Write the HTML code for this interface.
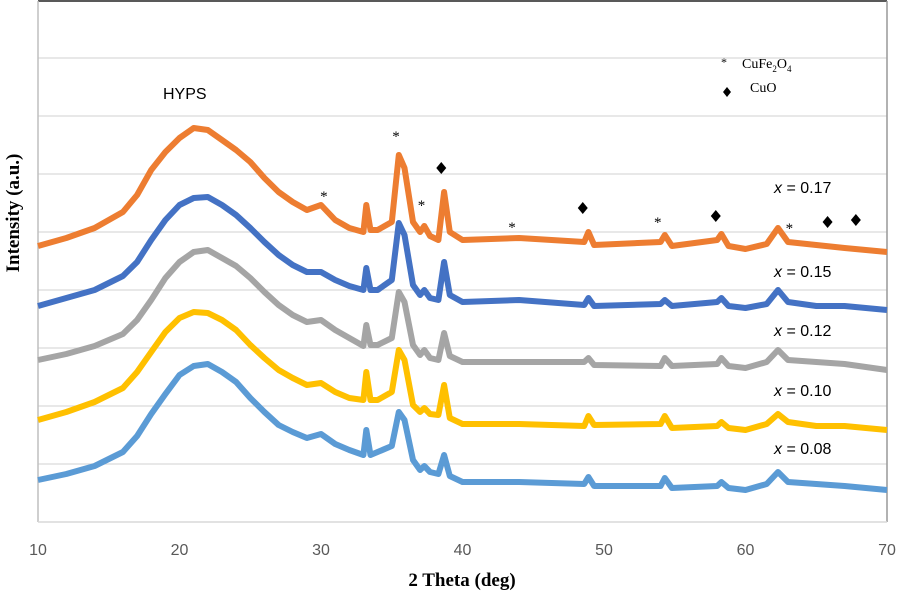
<!DOCTYPE html>
<html><head><meta charset="utf-8"><style>
body{margin:0;background:#fff;}
svg{display:block;}
.tk{font-family:"Liberation Sans",sans-serif;font-size:16px;fill:#595959;}
.lab{font-family:"Liberation Sans",sans-serif;font-size:16px;fill:#000;}
.ser{font-family:"Liberation Serif",serif;fill:#000;}
</style></head><body>
<svg id="chart" width="901" height="595" viewBox="0 0 901 595">
<g id="grid"></g>
<line x1="38" y1="1" x2="887" y2="1" stroke="#222" stroke-width="1.5"/>
<line x1="887" y1="1" x2="887" y2="522" stroke="#999" stroke-width="1.5"/>
<line x1="38" y1="1" x2="38" y2="522" stroke="#bfbfbf" stroke-width="1.5"/>
<line x1="38" y1="522" x2="887" y2="522" stroke="#d9d9d9" stroke-width="1.5"/>
<g id="series"></g>
<g id="ticks"></g>
<text x="462" y="586" text-anchor="middle" class="ser" font-size="19" font-weight="bold">2 Theta (deg)</text>
<text transform="translate(19,213) rotate(-90)" text-anchor="middle" class="ser" font-size="19" font-weight="bold">Intensity (a.u.)</text>
<text x="163" y="99" class="lab">HYPS</text>
<g>
<text x="721" y="66" class="ser" font-size="12">*</text>
<text x="742" y="68" class="ser" font-size="14">CuFe<tspan font-size="9" dy="4">2</tspan><tspan dy="-4">O</tspan><tspan font-size="9" dy="4">4</tspan></text>
<polygon points="727,87 731,92 727,97 723,92" fill="#000"/>
<text x="750" y="92" class="ser" font-size="14">CuO</text>
</g>
<g id="labels"></g>
<g id="marks"></g>
</svg>
<script>
const theta = [10,12,14,16,17,18,19,20,21,22,23,24,25,26,27,28,29,30,31,32,33,33.2,33.5,34,35,35.5,35.9,36.5,37,37.3,37.7,38.3,38.7,39.1,40,44,48.6,48.9,49.3,54,54.3,54.8,58,58.3,58.8,60,61.5,62.3,63,65,67,70];
const s017 = [276,284,294,310,327,352,370,384,394,392,382,372,360,344,330,320,312,317,302,294,290,317,292,292,300,367,354,300,290,296,286,282,330,290,282,284,280,290,277,280,287,276,282,288,276,273,278,294,280,277,274,270];
const s015 = [216,224,232,246,260,282,302,317,324,325,317,307,294,280,267,257,250,250,242,236,232,254,232,232,242,299,287,237,227,232,224,222,260,227,220,222,217,224,216,218,222,216,220,224,216,214,218,232,220,216,216,212];
const s012 = [162,168,176,188,202,222,244,260,270,272,264,256,244,230,217,207,200,202,192,184,176,197,177,177,184,230,220,177,167,172,164,162,189,166,160,160,160,164,157,156,164,156,158,164,156,154,160,172,162,160,158,152];
const s010 = [102,110,120,134,150,170,190,204,210,209,202,192,177,164,152,144,137,139,130,124,122,150,122,122,130,172,162,117,110,114,108,107,137,104,98,98,96,106,97,98,106,94,96,100,94,92,98,108,100,96,96,92];
const s008 = [42,48,56,70,86,108,128,147,156,158,150,140,124,110,97,90,84,88,78,72,67,92,67,70,76,110,102,62,52,56,50,48,67,46,40,40,38,45,36,36,44,34,36,40,34,32,38,50,40,38,36,32];
const seriesNames = ["x = 0.17","x = 0.15","x = 0.12","x = 0.10","x = 0.08"];
const xTicks = [10,20,30,40,50,60,70];
const gridVals = [58,116,174,232,290,348,406,464];
const starTheta = [30.2,35.3,37.1,43.5,53.8,63.1];
const starVal = [329,389,320,298,303,297];
const diamondTheta = [38.5,48.5,57.9,65.8,67.8];
const diamondVal = [354,314,306,300,302];

const NS="http://www.w3.org/2000/svg";
function xs(t){return 38+(t-10)*(849/60);}
function ys(v){return 522-v;}
const colors=["#ED7D31","#4472C4","#A5A5A5","#FFC000","#5B9BD5"];
const all=[s017,s015,s012,s010,s008];
const labelY=[187,271,330,390,448];
const grid=document.getElementById('grid');
gridVals.forEach(g=>{const l=document.createElementNS(NS,'line');


l.setAttribute('x1',38);l.setAttribute('x2',887);l.setAttribute('y1',ys(g));l.setAttribute('y2',ys(g));l.setAttribute('stroke','#d9d9d9');l.setAttribute('stroke-width','1.3');grid.appendChild(l);});
const sg=document.getElementById('series');
all.forEach((arr,i)=>{const p=document.createElementNS(NS,'polyline');


p.setAttribute('points',arr.map((v,j)=>xs(theta[j]).toFixed(1)+','+ys(v)).join(' '));
p.setAttribute('fill','none');p.setAttribute('stroke',colors[i]);p.setAttribute('stroke-width','6');p.setAttribute('stroke-linejoin','round');sg.appendChild(p);});
const tg=document.getElementById('ticks');
xTicks.forEach(t=>{const e=document.createElementNS(NS,'text');


e.setAttribute('x',xs(t));e.setAttribute('y',555);e.setAttribute('text-anchor','middle');e.setAttribute('class','tk');e.textContent=t;tg.appendChild(e);});
const lg=document.getElementById('labels');
seriesNames.forEach((n,i)=>{const e=document.createElementNS(NS,'text');


e.setAttribute('x',774);e.setAttribute('y',labelY[i]+6);e.setAttribute('class','lab');
e.innerHTML='<tspan font-style="italic">x</tspan>'+n.slice(1);lg.appendChild(e);});
const mg=document.getElementById('marks');
starTheta.forEach((t,i)=>{const e=document.createElementNS(NS,'text');


e.setAttribute('x',xs(t));e.setAttribute('y',ys(starVal[i])+8);e.setAttribute('text-anchor','middle');e.setAttribute('class','ser');e.setAttribute('font-size','15');e.textContent='*';mg.appendChild(e);});
diamondTheta.forEach((t,i)=>{const e=document.createElementNS(NS,'polygon');


const x=xs(t),y=ys(diamondVal[i]);
e.setAttribute('points',`${x},${y-6} ${x+5},${y} ${x},${y+6} ${x-5},${y}`);e.setAttribute('fill','#000');mg.appendChild(e);});
</script>
</body></html>
